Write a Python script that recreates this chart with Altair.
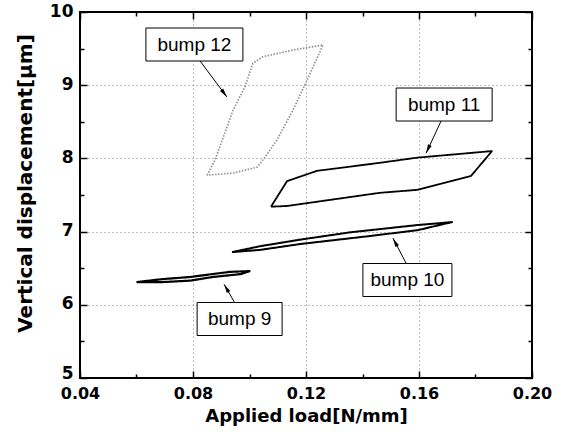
import math
import altair as alt
import pandas as pd

# ---------------- data ----------------
series_names = ["bump 9", "bump 10", "bump 11", "bump 12"]

bump9_x = [0.060, 0.069, 0.079, 0.087, 0.093, 0.100, 0.097, 0.087, 0.079, 0.069, 0.060]
bump9_y = [6.31, 6.35, 6.38, 6.42, 6.45, 6.46, 6.42, 6.38, 6.33, 6.31, 6.31]

bump10_x = [0.0938, 0.1037, 0.1179, 0.1356, 0.1596, 0.1717, 0.1596, 0.1427, 0.1179, 0.1037, 0.0938]
bump10_y = [6.72, 6.80, 6.89, 6.99, 7.09, 7.13, 7.02, 6.94, 6.83, 6.75, 6.72]

bump11_x = [0.1076, 0.1133, 0.1239, 0.1462, 0.1593, 0.1858, 0.1841, 0.1784, 0.1593, 0.1462, 0.1133, 0.1076]
bump11_y = [7.34, 7.69, 7.83, 7.94, 8.01, 8.10, 8.02, 7.76, 7.57, 7.53, 7.35, 7.34]

bump12_x = [0.0850, 0.0878, 0.0942, 0.0984, 0.1012, 0.1048, 0.1154, 0.1260,
            0.1204, 0.1154, 0.1097, 0.1048, 0.1027, 0.0942, 0.0850]
bump12_y = [7.77, 7.98, 8.66, 8.98, 9.30, 9.39, 9.48, 9.55,
            9.07, 8.66, 8.25, 7.98, 7.88, 7.80, 7.77]

label_text = ["bump 12", "bump 11", "bump 10", "bump 9"]
label_x = [0.0805, 0.1689, 0.1559, 0.0965]
label_y = [9.556, 8.736, 6.339, 5.806]
arrow_from_x = [0.0825, 0.1678, 0.1554, 0.0949]
arrow_from_y = [9.33, 8.51, 6.57, 6.02]
arrow_to_x = [0.0920, 0.1625, 0.1508, 0.0910]
arrow_to_y = [8.84, 8.07, 6.91, 6.28]

x_major = [0.04, 0.08, 0.12, 0.16, 0.20]
x_minor = [0.06, 0.10, 0.14, 0.18]
y_major = [5, 6, 7, 8, 9, 10]
y_minor = [5.5, 6.5, 7.5, 8.5, 9.5]

# ---------------- layout / style ----------------
W, H = 452, 366
XDOM = [0.04, 0.20]
YDOM = [5, 10]
box_w = [97, 96, 89, 85]
box_h = 33
px_x = W / (XDOM[1] - XDOM[0])
px_y = H / (YDOM[1] - YDOM[0])

rows = []
for name, xs_, ys_ in [("bump 9", bump9_x, bump9_y), ("bump 10", bump10_x, bump10_y),
                       ("bump 11", bump11_x, bump11_y), ("bump 12", bump12_x, bump12_y)]:
    for i, (a, b) in enumerate(zip(xs_, ys_)):
        rows.append({"series": name, "order": i, "x": a, "y": b})
lines_df = pd.DataFrame(rows)

lab = pd.DataFrame({"text": label_text, "x": label_x, "y": label_y})
lab["x1"] = [c - w / 2 / px_x for c, w in zip(label_x, box_w)]
lab["x2"] = [c + w / 2 / px_x for c, w in zip(label_x, box_w)]
lab["y1"] = [c - box_h / 2 / px_y for c in label_y]
lab["y2"] = [c + box_h / 2 / px_y for c in label_y]

arr = pd.DataFrame({"ax": arrow_from_x, "ay": arrow_from_y, "bx": arrow_to_x, "by": arrow_to_y})
angles = []
for ax_, ay_, bx_, by_ in zip(arrow_from_x, arrow_from_y, arrow_to_x, arrow_to_y):
    dx = (bx_ - ax_) * px_x
    dy = -(by_ - ay_) * px_y
    angles.append(math.degrees(math.atan2(dx, -dy)) % 360)
arr["angle"] = angles

xs = alt.Scale(domain=XDOM, nice=False, zero=False)
ys = alt.Scale(domain=YDOM, nice=False, zero=False)

grid_x_op = alt.condition("datum.value < 0.05 || datum.value > 0.19", alt.value(0), alt.value(1))
grid_y_op = alt.condition("datum.value < 5.1 || datum.value > 9.9", alt.value(0), alt.value(1))
y_lab_off = alt.condition("datum.value < 5.1", alt.value(-5), alt.value(-1))

main_x_axis = alt.Axis(
    values=x_major, format=".2f", labelFont="DejaVu Sans", labelFontWeight="bold",
    labelFontSize=16, labelColor="black", labelPadding=7, labelFlush=False,
    labelOverlap=False, labelBound=False, ticks=False, tickSize=0, domain=False,
    grid=True, gridColor="#7a7a7a", gridDash=[1, 3], gridWidth=1, gridOpacity=grid_x_op,
    title="Applied load[N/mm]", titleFont="DejaVu Sans", titleFontSize=18,
    titleFontWeight="bold", titleColor="black", titleX=W / 2, titleY=38,
    titleBaseline="middle", titleAlign="center")
main_y_axis = alt.Axis(
    values=y_major, format="d", labelFont="DejaVu Sans", labelFontWeight="bold",
    labelFontSize=17, labelColor="black", labelPadding=7, labelFlush=False,
    labelOverlap=False, labelBound=False, labelOffset=y_lab_off, ticks=False, tickSize=0,
    domain=False, grid=True, gridColor="#7a7a7a", gridDash=[1, 3], gridWidth=1,
    gridOpacity=grid_y_op,
    title="Vertical displacement[μm]", titleFont="DejaVu Sans", titleFontSize=20,
    titleFontWeight="bold", titleColor="black", titleX=-55, titleY=171,
    titleAngle=270, titleBaseline="middle", titleAlign="center")

lines = alt.Chart(lines_df).mark_line(strokeJoin="round").encode(
    x=alt.X("x:Q", scale=xs, axis=main_x_axis),
    y=alt.Y("y:Q", scale=ys, axis=main_y_axis),
    color=alt.Color("series:N", scale=alt.Scale(domain=series_names,
                    range=["black", "black", "black", "#8c8c8c"]), legend=None),
    strokeDash=alt.StrokeDash("series:N", scale=alt.Scale(domain=series_names,
                    range=[[1, 0], [1, 0], [1, 0], [1.5, 1.5]]), legend=None),
    strokeWidth=alt.StrokeWidth("series:N", scale=alt.Scale(domain=series_names,
                    range=[2.2, 1.6, 2.4, 1.2]), legend=None),
    order="order:Q",
)


def tick_layer(xorient, yorient, xvals, yvals, size):
    def ax(orient, vals):
        return alt.Axis(orient=orient, values=vals, offset=-size, tickSize=size,
                        ticks=True, tickColor="black", tickWidth=1.5, labels=False, domain=False,
                        grid=False, title=None)
    return alt.Chart(lines_df).mark_point(opacity=0).encode(
        x=alt.X("x:Q", scale=xs, axis=ax(xorient, xvals)),
        y=alt.Y("y:Q", scale=ys, axis=ax(yorient, yvals)),
    )


t1 = tick_layer("bottom", "left", x_major, y_major, 7)
t2 = tick_layer("bottom", "left", x_minor, y_minor, 4)
t3 = tick_layer("top", "right", x_major, y_major, 7)
t4 = tick_layer("top", "right", x_minor, y_minor, 4)

arrow_lines = alt.Chart(arr).mark_rule(color="black", strokeWidth=1).encode(
    x=alt.X("ax:Q", scale=xs, axis=None), y=alt.Y("ay:Q", scale=ys, axis=None),
    x2="bx:Q", y2="by:Q")
arrow_heads = alt.Chart(arr).mark_point(
    shape="M0,0L-0.38,1.7L0.38,1.7Z", filled=True, color="black", opacity=1, size=110
).encode(
    x=alt.X("bx:Q", scale=xs, axis=None), y=alt.Y("by:Q", scale=ys, axis=None),
    angle=alt.Angle("angle:Q", scale=None))

boxes = alt.Chart(lab).mark_rect(fill="white", stroke="black", strokeWidth=1).encode(
    x=alt.X("x1:Q", scale=xs, axis=None), x2="x2:Q",
    y=alt.Y("y1:Q", scale=ys, axis=None), y2="y2:Q")
texts = alt.Chart(lab).mark_text(font="Liberation Sans", fontSize=19, color="black",
                                 align="center", baseline="middle").encode(
    x=alt.X("x:Q", scale=xs, axis=None), y=alt.Y("y:Q", scale=ys, axis=None),
    text="text:N")

chart = alt.layer(lines, t1, t2, t3, t4, arrow_lines, arrow_heads, boxes, texts).resolve_axis(
    x="independent", y="independent"
).properties(
    width=W, height=H,
    autosize=alt.AutoSizeParams(type="none"),
    padding={"left": 80, "top": 12, "right": 30, "bottom": 60},
    background="white",
).configure_view(stroke="black", strokeWidth=2)

chart.save("out.html", embed_options={"renderer": "svg", "actions": False})
